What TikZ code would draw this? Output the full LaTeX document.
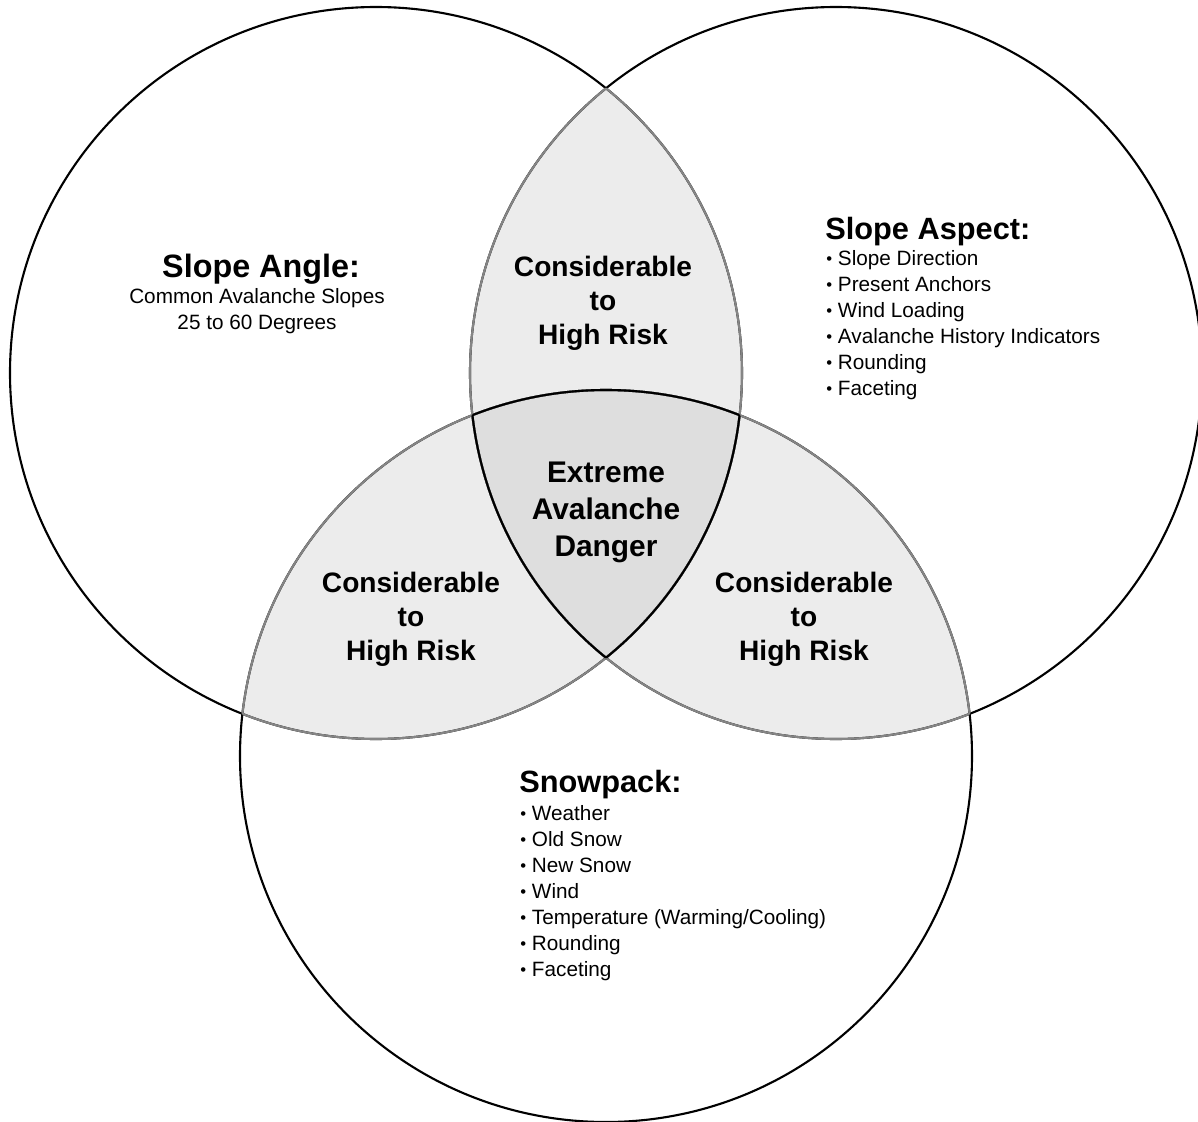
\documentclass[tikz,border=0pt]{standalone}
\usepackage{fontspec}
\setmainfont{Liberation Sans}
\usetikzlibrary{positioning}
\definecolor{lensgray}{HTML}{ECECEC}
\definecolor{coregray}{HTML}{DEDEDE}
\definecolor{seamgray}{HTML}{858585}
\tikzset{
	ring/.style={line width=1.2pt},
	heading/.style={font=\fontsize{17.5}{21}\selectfont\bfseries, inner sep=0pt},
	risk/.style={font=\fontsize{16}{19.4}\selectfont\bfseries, align=center, inner sep=0pt},
	core/.style={font=\fontsize{17}{21}\selectfont\bfseries, align=center, inner sep=0pt},
	item/.style={font=\fontsize{11.8}{14.8}\selectfont, inner sep=0pt},
}
\def\rad{366}
\def\dotmark{\raisebox{0.6pt}{\fontsize{9.5}{9.5}\selectfont\textbullet}}

\begin{document}
\begin{tikzpicture}[x=0.02cm, y=-0.02cm]
		%%%%% START %%%%%
		\useasboundingbox (0, 0) rectangle (1198, 1122);
		
		\coordinate (angle) at (376, 373);
		\coordinate (aspect) at (836, 373);
		\coordinate (snow) at (606, 756);
		
		% two-circle lenses
		\begin{scope}
			\clip (angle) circle (\rad);
			\fill[lensgray] (aspect) circle (\rad);
			\fill[lensgray] (snow) circle (\rad);
		\end{scope}
		\begin{scope}
			\clip (aspect) circle (\rad);
			\fill[lensgray] (snow) circle (\rad);
		\end{scope}
		
		% centre
		\begin{scope}
			\clip (angle) circle (\rad);
			\clip (aspect) circle (\rad);
			\fill[coregray] (snow) circle (\rad);
		\end{scope}
		
		% outlines
		\draw[ring] (angle) circle (\rad);
		\draw[ring] (aspect) circle (\rad);
		\draw[ring] (snow) circle (\rad);
		
		\begin{scope}
			\clip (angle) circle (\rad);
			\draw[ring, seamgray] (aspect) circle (\rad);
			\draw[ring, seamgray] (snow) circle (\rad);
		\end{scope}
		\begin{scope}
			\clip (aspect) circle (\rad);
			\draw[ring, seamgray] (angle) circle (\rad);
			\draw[ring, seamgray] (snow) circle (\rad);
		\end{scope}
		\begin{scope}
			\clip (snow) circle (\rad);
			\draw[ring, seamgray] (angle) circle (\rad);
			\draw[ring, seamgray] (aspect) circle (\rad);
		\end{scope}
		
		\begin{scope}
			\clip (angle) circle (\rad);
			\clip (aspect) circle (\rad);
			\draw[ring] (snow) circle (\rad);
		\end{scope}
		\begin{scope}
			\clip (angle) circle (\rad);
			\clip (snow) circle (\rad);
			\draw[ring] (aspect) circle (\rad);
		\end{scope}
		\begin{scope}
			\clip (aspect) circle (\rad);
			\clip (snow) circle (\rad);
			\draw[ring] (angle) circle (\rad);
		\end{scope}
		
		% labels
		\node[risk] (toprisk) at (603, 303) {Considerable\\to\\High Risk};
		\node[risk] (leftrisk) at (411, 619) {Considerable\\to\\High Risk};
		\node[risk] (rightrisk) at (804, 619) {Considerable\\to\\High Risk};
		\node[core] (extreme) at (606, 512) {Extreme\\Avalanche\\Danger};
		
		\node[heading, font=\fontsize{18.4}{21}\selectfont\bfseries, anchor=base] (anglehead) at (261, 277) {Slope Angle:};
		\node[item, anchor=base] (angle1) at (257, 303) {Common Avalanche Slopes};
		\node[item, anchor=base] (angle2) at (257, 329) {25 to 60 Degrees};
		
		\node[heading, anchor=base west] (aspecthead) at (825, 239) {Slope Aspect:};
		\foreach \txt [count=\i] in {Slope Direction, Present Anchors, Wind Loading,
			Avalanche History Indicators, Rounding, Faceting}
			\node[item, anchor=base west] (aspect\i) at (826, 239.5+26*\i) {\dotmark\ \txt};
		
		\node[heading, anchor=base west] (snowhead) at (519, 792) {Snowpack:};
		\foreach \txt [count=\i] in {Weather, Old Snow, New Snow, Wind,
			Temperature (Warming/Cooling), Rounding, Faceting}
			\node[item, anchor=base west] (snow\i) at (520, 794.5+26*\i) {\dotmark\ \txt};
		%%%%% END %%%%%
\end{tikzpicture}
\end{document}
